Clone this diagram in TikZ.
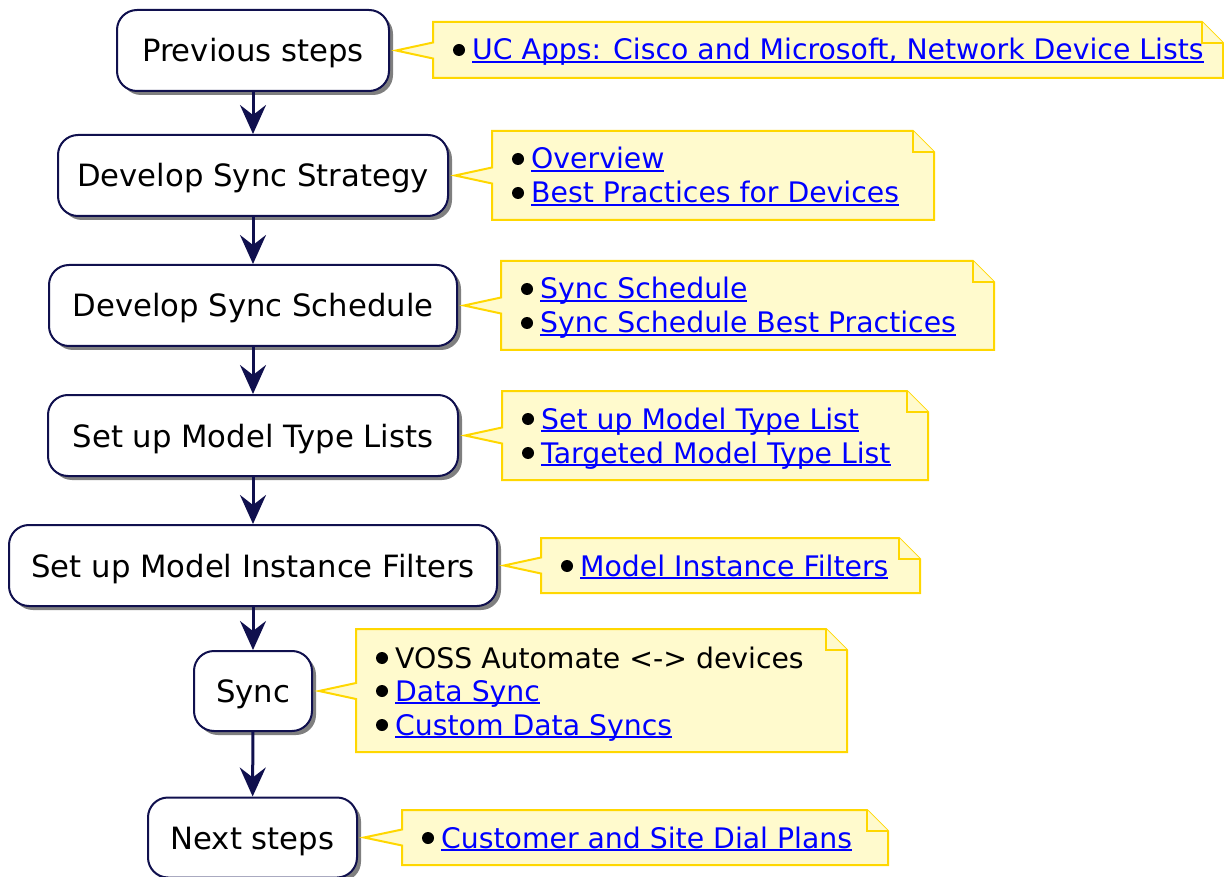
\documentclass[tikz,border=0pt]{standalone}
\usepackage{fontspec}
\setmainfont{DejaVu Sans}
\usetikzlibrary{arrows.meta,shadows,calc}
\definecolor{navy}{HTML}{10104E}
\definecolor{notefill}{HTML}{FFFACD}
\definecolor{noteline}{HTML}{FFD700}
\definecolor{linkblue}{HTML}{0000FF}
\newcommand\lnk[1]{\textcolor{linkblue}{\setbox0\hbox{#1}\rlap{\rule[-3pt]{\wd0}{1.6pt}}\box0}}
\newcommand\notebox[6]{%
  \draw[notestyle] (#2,#3) -- ({#4-21},#3) -- (#4,{#3+21}) -- (#4,#5) -- (#2,#5) -- (#2,{#6+8}) -- ($(#1.east)+(6,0)$) -- (#2,{#6-8}) -- cycle;
  \draw[notestyle] ({#4-21},#3) -- ({#4-21},{#3+21}) -- (#4,{#3+21});
}
\newcommand\noteitem[4]{%
  \fill (#2+26,#3) circle (6pt);
  \node[notetext] (#1) at ({#2+39},{#3+10}) {#4};
}
\tikzset{
  stepbox/.style={draw=navy, line width=2pt, rounded corners=20pt, fill=white,
    minimum height=81pt, inner sep=0pt, text height=26pt, text depth=3pt,
    font=\fontsize{30.7}{36}\selectfont,
    drop shadow={shadow xshift=4pt, shadow yshift=-4pt, fill=black, opacity=0.5}},
  notestyle/.style={draw=noteline, line width=2pt, fill=notefill, line join=miter},
  notetext/.style={anchor=base west, inner sep=0pt, font=\fontsize{28.3}{34}\selectfont},
  flow/.style={draw=navy, line width=3pt, -{Stealth[length=29pt,width=26pt,inset=10pt]}}
}
\begin{document}
\begin{tikzpicture}[x=1pt,y=-1pt]
\useasboundingbox (0,0) rectangle (1224,877);
\node[stepbox, minimum width=272pt] (p) at (253,50.5) {Previous steps};
\node[stepbox, minimum width=390pt] (s1) at (253,175.5) {Develop Sync Strategy};
\node[stepbox, minimum width=408pt] (s2) at (253,305.5) {Develop Sync Schedule};
\node[stepbox, minimum width=410pt] (s3) at (253,435.5) {Set up Model Type Lists};
\node[stepbox, minimum width=488pt] (s4) at (253,565.5) {Set up Model Instance Filters};
\node[stepbox, minimum width=118pt, minimum height=80pt] (s5) at (253,691) {Sync};
\node[stepbox, minimum width=209pt, minimum height=80pt] (n) at (252.5,837.5) {Next steps};

\draw[flow] (p) -- (s1);
\draw[flow] (s1) -- (s2);
\draw[flow] (s2) -- (s3);
\draw[flow] (s3) -- (s4);
\draw[flow] (s4) -- (s5);
\draw[flow] (s5) -- (n);

\notebox{p}{433}{22}{1223}{78}{50.5}
\noteitem{t1}{433}{50}{\lnk{UC Apps: Cisco and Microsoft, Network Device Lists}}

\notebox{s1}{492}{131}{934}{220}{175.5}
\noteitem{t2a}{492}{159}{\lnk{Overview}}
\noteitem{t2b}{492}{193}{\lnk{Best Practices for Devices}}

\notebox{s2}{501}{261}{994}{350}{305.5}
\noteitem{t3a}{501}{289}{\lnk{Sync Schedule}}
\noteitem{t3b}{501}{323}{\lnk{Sync Schedule Best Practices}}

\notebox{s3}{502}{391}{928}{480}{435.5}
\noteitem{t4a}{502}{419}{\lnk{Set up Model Type List}}
\noteitem{t4b}{502}{453}{\lnk{Targeted Model Type List}}

\notebox{s4}{541}{538}{920}{593}{565.5}
\noteitem{t5}{541}{566}{\lnk{Model Instance Filters}}

\notebox{s5}{356}{629}{847}{752}{691}
\noteitem{t6a}{356}{658}{VOSS Automate <-> devices}
\noteitem{t6b}{356}{691}{\lnk{Data Sync}}
\noteitem{t6c}{356}{725}{\lnk{Custom Data Syncs}}

\notebox{n}{402}{810}{888}{865}{837.5}
\noteitem{t7}{402}{838}{\lnk{Customer and Site Dial Plans}}
\end{tikzpicture}
\end{document}
